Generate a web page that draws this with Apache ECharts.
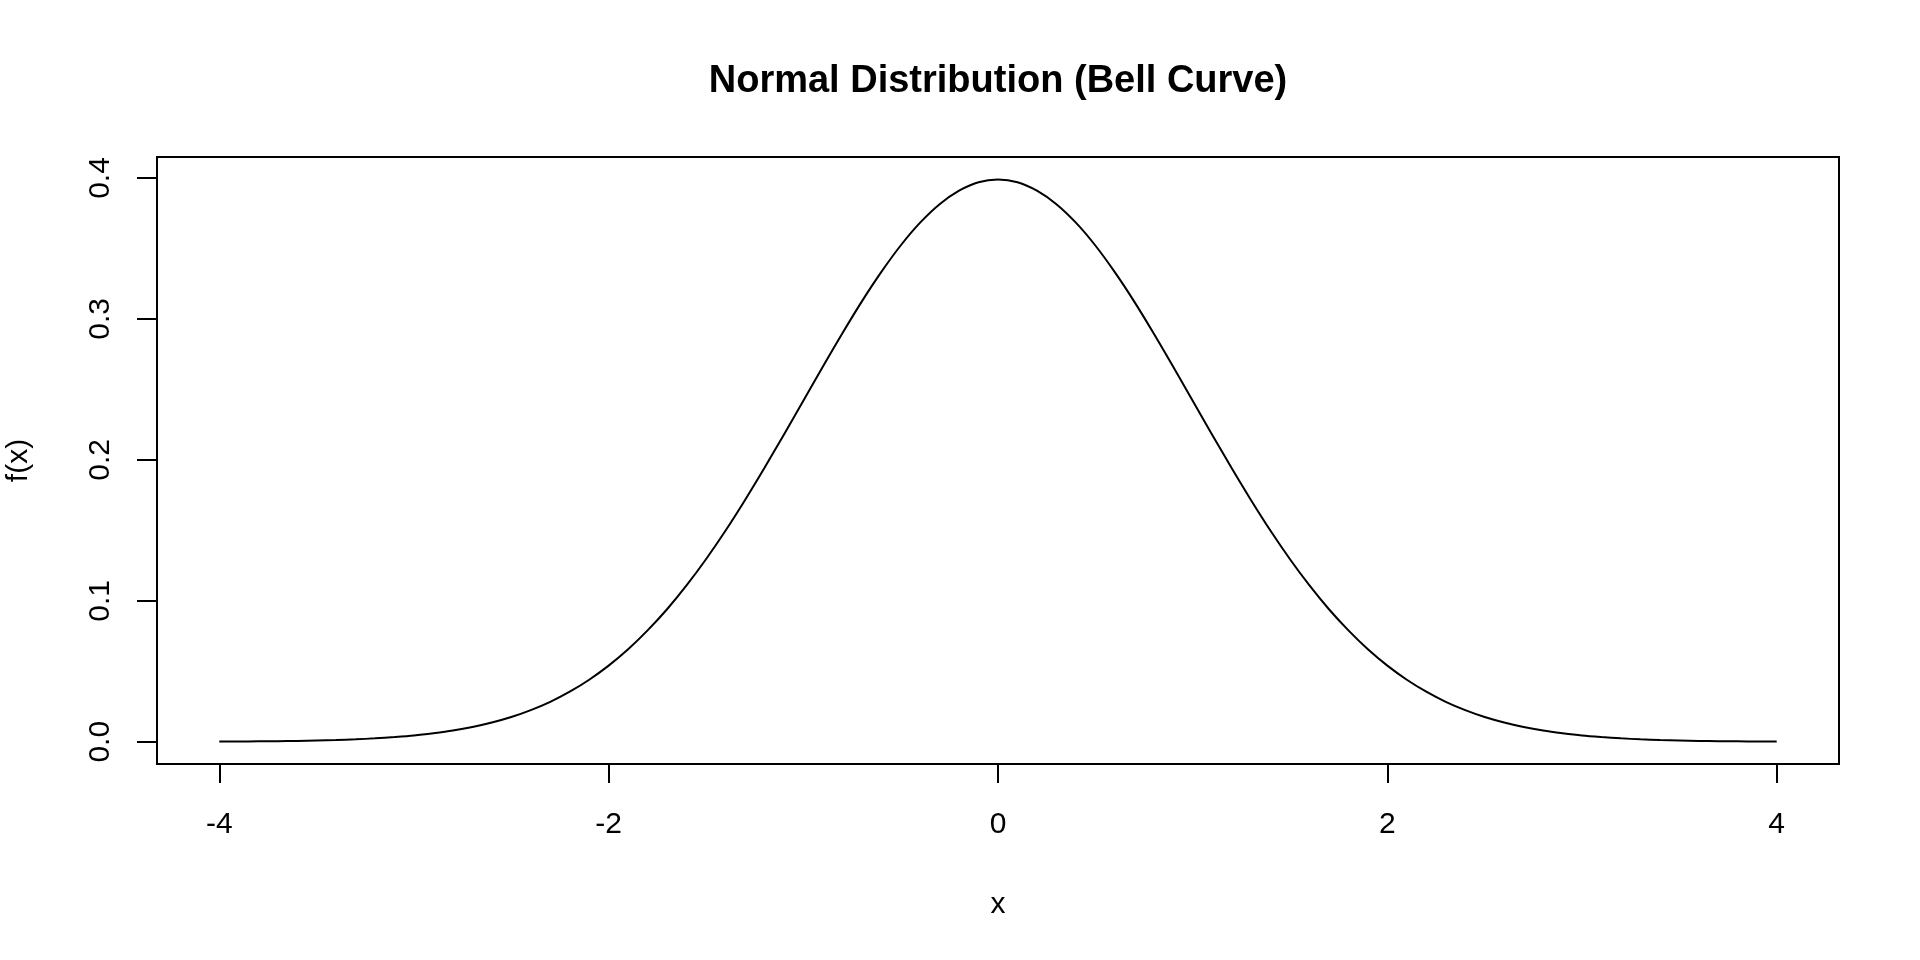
<!DOCTYPE html>
<html>
<head>
<meta charset="utf-8">
<title>Normal Distribution (Bell Curve)</title>
<script src="https://cdn.jsdelivr.net/npm/echarts@6/dist/echarts.min.js"></script>
<style>
  html, body { margin: 0; padding: 0; background: #fff; }
  #chart { width: 1920px; height: 960px; }
</style>
</head>
<body>
<div id="chart"></div>
<script>
// values
const xs = [
  -4.0, -3.9, -3.8, -3.7, -3.6, -3.5, -3.4, -3.3, -3.2, -3.1, -3.0, -2.9, -2.8, -2.7, -2.6, -2.5, -2.4, -2.3, -2.2, -2.1,
  -2.0, -1.9, -1.8, -1.7, -1.6, -1.5, -1.4, -1.3, -1.2, -1.1, -1.0, -0.9, -0.8, -0.7, -0.6, -0.5, -0.4, -0.3, -0.2, -0.1,
  0.0, 0.1, 0.2, 0.3, 0.4, 0.5, 0.6, 0.7, 0.8, 0.9, 1.0, 1.1, 1.2, 1.3, 1.4, 1.5, 1.6, 1.7, 1.8, 1.9,
  2.0, 2.1, 2.2, 2.3, 2.4, 2.5, 2.6, 2.7, 2.8, 2.9, 3.0, 3.1, 3.2, 3.3, 3.4, 3.5, 3.6, 3.7, 3.8, 3.9, 4.0,
];
const density = [
  0.0001, 0.0002, 0.0003, 0.0004, 0.0006, 0.0009, 0.0012, 0.0017, 0.0024, 0.0033, 0.0044, 0.006, 0.0079, 0.0104, 0.0136, 0.0175, 0.0224, 0.0283, 0.0355, 0.044,
  0.054, 0.0656, 0.079, 0.094, 0.1109, 0.1295, 0.1497, 0.1714, 0.1942, 0.2179, 0.242, 0.2661, 0.2897, 0.3123, 0.3332, 0.3521, 0.3683, 0.3814, 0.391, 0.397,
  0.3989, 0.397, 0.391, 0.3814, 0.3683, 0.3521, 0.3332, 0.3123, 0.2897, 0.2661, 0.242, 0.2179, 0.1942, 0.1714, 0.1497, 0.1295, 0.1109, 0.094, 0.079, 0.0656,
  0.054, 0.044, 0.0355, 0.0283, 0.0224, 0.0175, 0.0136, 0.0104, 0.0079, 0.006, 0.0044, 0.0033, 0.0024, 0.0017, 0.0012, 0.0009, 0.0006, 0.0004, 0.0003, 0.0002, 0.0001,
];
const xTicks = [-4, -2, 0, 2, 4];
const yTicks = [0, 0.1, 0.2, 0.3, 0.4];

const font = "'Liberation Sans', Arial, Helvetica, sans-serif";
const chart = echarts.init(document.querySelector("#chart"));

chart.setOption({
  animation: false,
  graphic: [
    {
      type: "text",
      x: 998,
      y: 82,
      style: {
        text: "Normal Distribution (Bell Curve)",
        font: `bold 38px ${font}`,
        fill: "#000",
        textAlign: "center",
        textVerticalAlign: "middle",
      },
    },
  ],
  grid: {
    left: 157,
    right: 81,
    top: 157,
    bottom: 196,
    outerBoundsMode: "none",
    containLabel: false,
    show: true,
    borderColor: "#000",
    borderWidth: 2,
    backgroundColor: "transparent",
  },
  xAxis: {
    type: "value",
    min: -4.32,
    max: 4.32,
    name: "x",
    nameLocation: "middle",
    nameGap: 126,
    nameTextStyle: { color: "#000", fontSize: 30, fontFamily: font },
    axisLine: { show: false, onZero: false },
    splitLine: { show: false },
    axisTick: { show: true, customValues: xTicks, length: 19, lineStyle: { color: "#000", width: 2 } },
    axisLabel: { customValues: xTicks, margin: 46, color: "#000", fontSize: 30, fontFamily: font },
  },
  yAxis: {
    type: "value",
    min: -0.0158,
    max: 0.4149,
    name: "f(x)",
    nameLocation: "middle",
    nameRotate: 90,
    nameGap: 123,
    nameTextStyle: { color: "#000", fontSize: 30, fontFamily: font },
    axisLine: { show: false, onZero: false },
    splitLine: { show: false },
    axisTick: { show: true, customValues: yTicks, length: 20, lineStyle: { color: "#000", width: 2 } },
    axisLabel: {
      customValues: yTicks,
      rotate: 90,
      margin: 41,
      color: "#000",
      fontSize: 30,
      fontFamily: font,
      formatter: (v) => v.toFixed(1),
    },
  },
  series: [
    {
      type: "line",
      data: xs.map((x, i) => [x, density[i]]),
      smooth: 0.3,
      showSymbol: false,
      lineStyle: { color: "#000", width: 2 },
    },
  ],
});
</script>
</body>
</html>
